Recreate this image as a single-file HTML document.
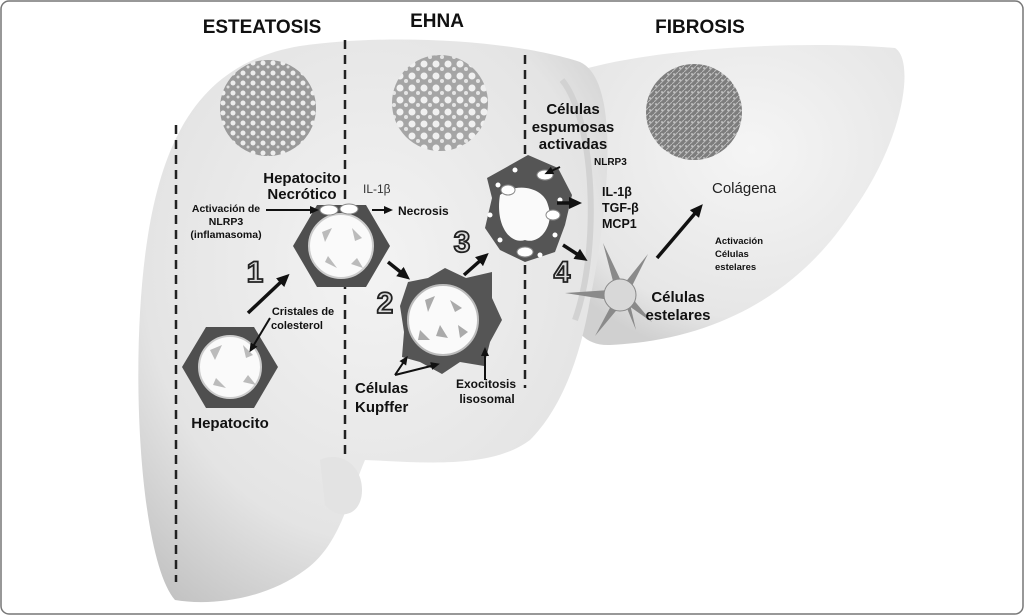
<!DOCTYPE html>
<html><head><meta charset="utf-8"><style>
html,body{margin:0;padding:0;background:#fff}
svg{display:block}
text{font-family:"Liberation Sans",Arial,sans-serif}
</style></head><body>
<svg width="1024" height="615" viewBox="0 0 1024 615">
<defs>
<radialGradient id="liv" cx="0.5" cy="0.4" r="0.75">
<stop offset="0" stop-color="#f3f3f3"/><stop offset="0.65" stop-color="#e4e4e4"/><stop offset="1" stop-color="#c0c0c0"/>
</radialGradient>
<radialGradient id="liv2" cx="0.55" cy="0.35" r="0.7">
<stop offset="0" stop-color="#f5f5f5"/><stop offset="0.8" stop-color="#e6e6e6"/><stop offset="1" stop-color="#d0d0d0"/>
</radialGradient>
<pattern id="hist1" width="10" height="10" patternUnits="userSpaceOnUse">
<rect width="10" height="10" fill="#9a9a9a"/><circle cx="3" cy="3" r="2.5" fill="#eee"/><circle cx="8" cy="7" r="1.5" fill="#ddd"/>
</pattern>
<pattern id="hist2" width="12" height="12" patternUnits="userSpaceOnUse">
<rect width="12" height="12" fill="#a5a5a5"/><circle cx="4" cy="4" r="3.5" fill="#f0f0f0"/><circle cx="10" cy="9" r="2" fill="#e5e5e5"/>
</pattern>
<pattern id="hist3" width="6" height="6" patternUnits="userSpaceOnUse">
<rect width="6" height="6" fill="#7d7d7d"/><path d="M0 6L6 0" stroke="#bbb" stroke-width="1"/><circle cx="2" cy="2" r="0.8" fill="#eee"/>
</pattern>
<marker id="ah" markerWidth="14" markerHeight="14" refX="4" refY="7" orient="auto" markerUnits="userSpaceOnUse">
<path d="M0,1 L13,7 L0,13 Z" fill="#111"/></marker>
<marker id="ahs" markerWidth="10" markerHeight="10" refX="4" refY="5" orient="auto" markerUnits="userSpaceOnUse">
<path d="M0,1 L9,5 L0,9 Z" fill="#111"/></marker>
</defs>
<rect x="1" y="1" width="1022" height="613" rx="8" fill="#fff" stroke="#777" stroke-width="1.5"/>
<!-- right lobe -->
<path d="M565,75 C640,48 800,40 895,48 C915,60 905,140 850,215 C800,290 720,340 610,345 C585,346 575,330 565,310 Z" fill="url(#liv2)"/>
<!-- left lobe -->
<path d="M175,600 C140,560 128,360 148,235 C165,130 205,62 300,46 C400,32 520,42 580,62 C620,80 610,200 590,300 C580,360 560,410 530,440 C490,470 420,462 365,460 C348,500 340,545 305,570 C265,600 210,606 175,600 Z" fill="url(#liv)"/>
<path d="M320,460 C340,450 362,465 362,490 C362,515 340,522 325,505 Z" fill="#e3e3e3"/>
<path d="M562,80 C595,120 600,250 575,320" fill="none" stroke="#d2d2d2" stroke-width="6"/>
<!-- dashed lines -->
<g stroke="#222" stroke-width="2.5" stroke-dasharray="9,6">
<line x1="176" y1="125" x2="176" y2="582"/>
<line x1="345" y1="40" x2="345" y2="460"/>
<line x1="525" y1="55" x2="525" y2="388"/>
</g>
<!-- titles -->
<g font-weight="bold" fill="#111" font-size="19" text-anchor="middle">
<text x="262" y="33">ESTEATOSIS</text>
<text x="437" y="27">EHNA</text>
<text x="700" y="33">FIBROSIS</text>
</g>
<!-- histology -->
<circle cx="268" cy="108" r="48" fill="url(#hist1)"/>
<circle cx="440" cy="103" r="48" fill="url(#hist2)"/>
<circle cx="694" cy="112" r="48" fill="url(#hist3)"/>
<!-- hepatocito -->
<polygon points="182,367 206,327 254,327 278,367 254,408 206,408" fill="#4f4f4f"/>
<circle cx="230" cy="367" r="31" fill="#fafafa" stroke="#ccc" stroke-width="2"/>
<g fill="#bbb"><polygon points="210,350 222,345 215,360"/><polygon points="243,345 253,355 246,358"/><polygon points="248,375 256,385 243,382"/><polygon points="213,385 226,388 216,378"/></g>
<!-- necrotic -->
<polygon points="293,246 317,205 366,205 390,246 366,287 317,287" fill="#4f4f4f"/>
<circle cx="341" cy="246" r="32" fill="#fafafa" stroke="#ccc" stroke-width="2"/>
<g fill="#bbb"><polygon points="322,232 332,228 325,242"/><polygon points="352,228 362,238 355,241"/><polygon points="357,258 363,268 351,264"/><polygon points="325,262 337,268 328,256"/></g>
<g fill="#fff" stroke="#888"><ellipse cx="329" cy="210" rx="9" ry="5"/><ellipse cx="349" cy="209" rx="9" ry="5"/></g>
<!-- kupffer -->
<polygon points="445,268 466,278 492,272 492,298 502,320 490,342 484,366 460,362 442,374 420,362 402,357 404,332 400,306 408,282 428,278" fill="#555"/>
<circle cx="443" cy="320" r="35" fill="#fafafa" stroke="#bbb" stroke-width="2"/>
<g fill="#aaa"><polygon points="425,300 435,296 428,312"/><polygon points="450,300 462,308 455,312"/><polygon points="440,325 448,338 436,336"/><polygon points="420,330 430,340 418,340"/><polygon points="458,325 468,332 460,338"/></g>
<!-- foam -->
<polygon points="528,155 558,168 572,195 565,225 555,252 525,262 500,250 485,228 492,198 487,178 505,168" fill="#555"/>
<path d="M500,195 C520,180 545,190 548,205 C555,225 540,245 525,240 C510,245 495,225 500,195 Z" fill="#fafafa"/>
<g fill="#fff"><circle cx="498" cy="185" r="2.5"/><circle cx="560" cy="200" r="2.5"/><circle cx="500" cy="240" r="2.5"/><circle cx="540" cy="255" r="2.5"/><circle cx="555" cy="235" r="2.5"/><circle cx="515" cy="170" r="2.5"/><circle cx="490" cy="215" r="2.5"/></g>
<g fill="#fff" stroke="#888"><ellipse cx="545" cy="175" rx="8" ry="5"/><ellipse cx="508" cy="190" rx="7" ry="5"/><ellipse cx="525" cy="252" rx="8" ry="5"/><ellipse cx="553" cy="215" rx="7" ry="5"/></g>
<!-- stellate -->
<g fill="#8a8a8a">
<polygon points="610,290 565,293 610,300"/>
<polygon points="614,285 603,243 622,283"/>
<polygon points="624,284 648,254 630,290"/>
<polygon points="632,298 652,322 626,304"/>
<polygon points="612,304 595,336 620,306"/>
<polygon points="626,306 636,330 630,304"/>
</g>
<circle cx="620" cy="295" r="16" fill="#d8d8d8" stroke="#888"/>
<!-- numbers -->
<g font-size="30" font-weight="bold" fill="#ddd" stroke="#222" stroke-width="1.8" text-anchor="middle">
<text x="255" y="282">1</text><text x="385" y="313">2</text><text x="462" y="252">3</text><text x="562" y="282">4</text>
</g>
<!-- arrows -->
<g stroke="#111" stroke-width="3.5" fill="none">
<line x1="248" y1="313" x2="283" y2="280" marker-end="url(#ah)"/>
<line x1="388" y1="262" x2="403" y2="274" marker-end="url(#ah)"/>
<line x1="464" y1="275" x2="482" y2="259" marker-end="url(#ah)"/>
<line x1="563" y1="245" x2="580" y2="256" marker-end="url(#ah)"/>
<line x1="657" y1="258" x2="697" y2="211" marker-end="url(#ah)"/>
<line x1="557" y1="203" x2="573" y2="203" marker-end="url(#ah)"/>
</g>
<g stroke="#111" stroke-width="2" fill="none">
<line x1="266" y1="210" x2="314" y2="210" marker-end="url(#ahs)"/>
<line x1="372" y1="210" x2="388" y2="210" marker-end="url(#ahs)"/>
<line x1="270" y1="318" x2="252" y2="348" marker-end="url(#ahs)"/>
<line x1="560" y1="167" x2="549" y2="172" marker-end="url(#ahs)"/>
<line x1="395" y1="375" x2="405" y2="360" marker-end="url(#ahs)"/>
<line x1="395" y1="375" x2="435" y2="365" marker-end="url(#ahs)"/>
<line x1="485" y1="380" x2="485" y2="352" marker-end="url(#ahs)"/>
</g>
<!-- labels -->
<g fill="#111" font-weight="bold">
<text x="302" y="183" font-size="15" text-anchor="middle">Hepatocito</text>
<text x="302" y="199" font-size="15" text-anchor="middle">Necrótico</text>
<text x="226" y="212" font-size="10.5" text-anchor="middle">Activación de</text>
<text x="226" y="225" font-size="10.5" text-anchor="middle">NLRP3</text>
<text x="226" y="238" font-size="10.5" text-anchor="middle">(inflamasoma)</text>
<text x="398" y="215" font-size="12">Necrosis</text>
<text x="303" y="315" font-size="11" text-anchor="middle">Cristales de</text>
<text x="297" y="329" font-size="11" text-anchor="middle">colesterol</text>
<text x="230" y="428" font-size="15" text-anchor="middle">Hepatocito</text>
<text x="355" y="393" font-size="15">Células</text>
<text x="355" y="412" font-size="15">Kupffer</text>
<text x="486" y="388" font-size="12" text-anchor="middle">Exocitosis</text>
<text x="487" y="403" font-size="12" text-anchor="middle">lisosomal</text>
<text x="573" y="114" font-size="15" text-anchor="middle">Células</text>
<text x="573" y="132" font-size="15" text-anchor="middle">espumosas</text>
<text x="573" y="149" font-size="15" text-anchor="middle">activadas</text>
<text x="594" y="165" font-size="10">NLRP3</text>
<text x="602" y="196" font-size="12.5">IL-1β</text>
<text x="602" y="212" font-size="12.5">TGF-β</text>
<text x="602" y="228" font-size="12.5">MCP1</text>
<text x="678" y="302" font-size="15" text-anchor="middle">Células</text>
<text x="678" y="320" font-size="15" text-anchor="middle">estelares</text>
<text x="715" y="244" font-size="9.5">Activación</text>
<text x="715" y="257" font-size="9.5">Células</text>
<text x="715" y="270" font-size="9.5">estelares</text>
</g>
<text x="363" y="193" font-size="12" fill="#333">IL-1β</text>
<text x="712" y="193" font-size="15" fill="#222">Colágena</text>
</svg>
</body></html>
